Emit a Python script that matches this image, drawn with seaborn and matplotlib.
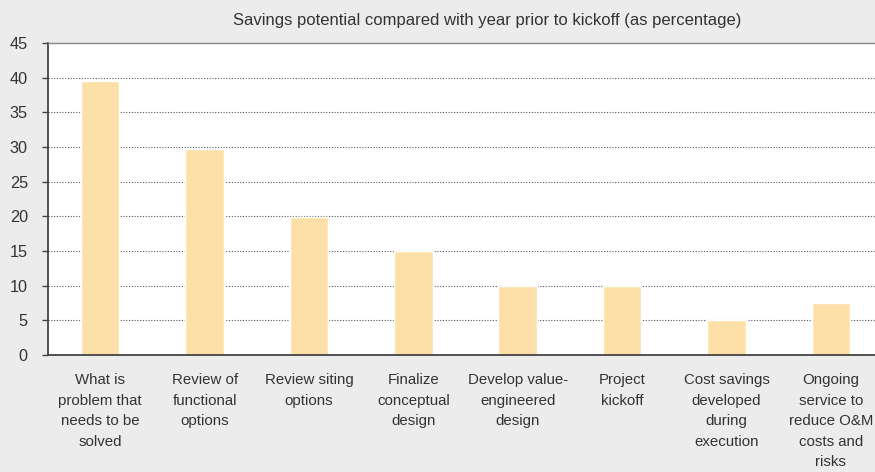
import matplotlib
matplotlib.use("Agg")
import matplotlib.pyplot as plt
import seaborn as sns
import pandas as pd

categories = [
    "What is\nproblem that\nneeds to be\nsolved",
    "Review of\nfunctional\noptions",
    "Review siting\noptions",
    "Finalize\nconceptual\ndesign",
    "Develop value-\nengineered\ndesign",
    "Project\nkickoff",
    "Cost savings\ndeveloped\nduring\nexecution",
    "Ongoing\nservice to\nreduce O&M\ncosts and\nrisks",
]
values = [39.5, 29.7, 19.9, 15.0, 9.9, 9.9, 5.0, 7.5]
yticks = [0, 5, 10, 15, 20, 25, 30, 35, 40, 45]
title = "Savings potential compared with year prior to kickoff (as percentage)"

sns.set_theme(style="white")
plt.rcParams["font.family"] = ["Liberation Sans", "DejaVu Sans"]

bg = "#EBECEB"
txt = "#333333"
fig = plt.figure(figsize=(8.75, 4.72), dpi=100, facecolor=bg)
ax = fig.add_axes([48/875, 1 - 355/472, 835/875, 312/472])
ax.set_facecolor("white")

df = pd.DataFrame({"cat": categories, "val": values})
sns.barplot(data=df, x="cat", y="val", color="#FDE0A8", saturation=1,
            width=0.37, ax=ax)

ax.set_ylim(0, 45)
ax.set_xlim(-0.5, 7.5)
ax.set_yticks(yticks)
ax.set_yticklabels([str(v) for v in yticks], fontsize=11.7, color=txt)
for y in yticks[1:-1]:
    ax.axhline(y, color="#555555", linestyle=(0, (1, 1.5)), linewidth=0.8, zorder=0.5)
ax.set_xlabel("")
ax.set_ylabel("")
ax.tick_params(axis="y", direction="out", length=4.5, width=1, color="#444444", pad=10, left=True)
ax.tick_params(axis="x", length=0, pad=13)
for lab in ax.get_xticklabels():
    lab.set_fontsize(10.8)
    lab.set_color(txt)
    lab.set_linespacing(1.6)
    lab.set_ha("center")
    lab.set_va("top")

for s in ["left", "bottom"]:
    ax.spines[s].set_color("#444444")
    ax.spines[s].set_linewidth(1.3)
ax.spines["top"].set_color("#888888")
ax.spines["top"].set_linewidth(1)
ax.spines["right"].set_visible(False)

fig.text(487/875, 1 - 20/472, title, ha="center", va="center", fontsize=12, color=txt)

fig.savefig("out.png", dpi=100, facecolor=bg)
